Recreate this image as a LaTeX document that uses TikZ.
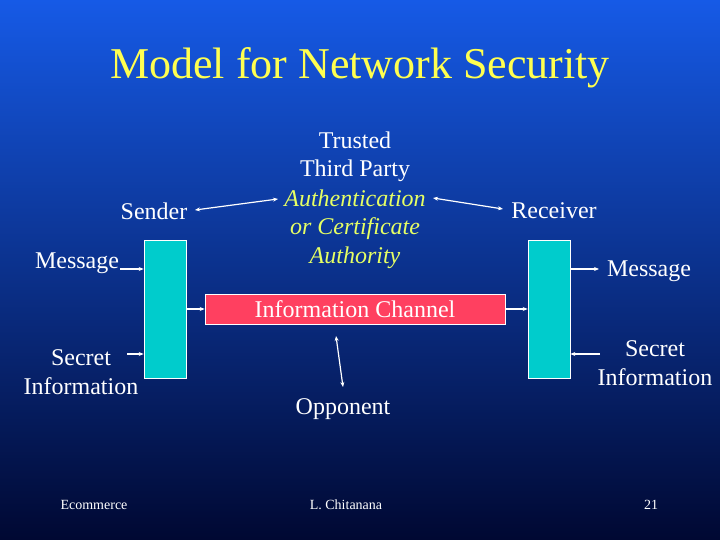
\documentclass[tikz,border=0pt]{standalone}
\usepackage{fontspec}
\setmainfont{Liberation Serif}
\usetikzlibrary{arrows.meta}
\definecolor{bgtop}{RGB}{22,90,230}
\definecolor{bgbot}{RGB}{0,8,50}
\definecolor{ttl}{RGB}{255,255,80}
\definecolor{auth}{RGB}{230,255,100}
\definecolor{teal}{RGB}{0,204,204}
\definecolor{chan}{RGB}{255,64,96}
\begin{document}
\begin{tikzpicture}[x=1pt,y=-1pt,
  txt/.style={text=white,font=\fontsize{24}{28.5}\selectfont,inner sep=0pt,align=center},
  foot/.style={text=white,font=\fontsize{14}{16}\selectfont,inner sep=0pt},
  arr/.style={white,line width=1.2pt,-{Stealth[length=5pt,width=4pt]}},
  darr/.style={white,line width=1.2pt,{Stealth[length=5pt,width=4pt]}-{Stealth[length=5pt,width=4pt]}},
  box/.style={draw=white,line width=0.6pt,inner sep=0pt}]
\useasboundingbox (0,0) rectangle (720,540);
\shade[top color=bgtop,bottom color=bgbot] (0,0) rectangle (720,540);
\node[text=ttl,font=\fontsize{44}{50}\selectfont] (title) at (360,68) {Model for Network Security};
\node[box,fill=teal,minimum width=42pt,minimum height=138pt] (lb) at (165,309) {};
\node[box,fill=teal,minimum width=42pt,minimum height=138pt] (rb) at (549,309) {};
\node[box,fill=chan,minimum width=300pt,minimum height=30pt,txt] (ch) at (355,309) {Information Channel};
\node[txt] (ttp) at (355,157) {Trusted\\Third Party};
\node[txt,text=auth,font=\fontsize{24}{28.5}\selectfont\itshape] (auth) at (355,229) {Authentication\\or Certificate\\Authority};
\node[txt] (snd) at (154,211) {Sender};
\node[txt] (rcv) at (554,211) {Receiver};
\node[txt] (lm) at (77,263) {Message};
\node[txt] (rm) at (649,271) {Message};
\node[txt] (ls) at (81,372) {Secret\\Information};
\node[txt] (rs) at (655,363) {Secret\\Information};
\node[txt] (opp) at (343,409) {Opponent};
\node[foot] (f1) at (94,505) {Ecommerce};
\node[foot] (f2) at (346,505) {L. Chitanana};
\node[foot] (f3) at (651,505) {21};
\coordinate (a1) at (120,269); \draw[arr] (a1) -- (lb.west |- a1);
\coordinate (a2) at (127,354); \draw[arr] (a2) -- (lb.west |- a2);
\draw[arr] (lb.east |- ch.west) -- (ch.west);
\draw[arr] (ch.east) -- (rb.west |- ch.east);
\coordinate (a3) at (599,269); \draw[arr] (rb.east |- a3) -- (a3);
\coordinate (a4) at (600,354); \draw[arr] (a4) -- (rb.east |- a4);
\coordinate (s1) at (195,210); \coordinate (s2) at (278,199); \draw[darr] (s1) -- (s2);
\coordinate (r1) at (433,198); \coordinate (r2) at (503,209); \draw[darr] (r1) -- (r2);
\coordinate (o1) at (336,336); \coordinate (o2) at (343,387); \draw[darr] (o1) -- (o2);
\end{tikzpicture}
\end{document}
